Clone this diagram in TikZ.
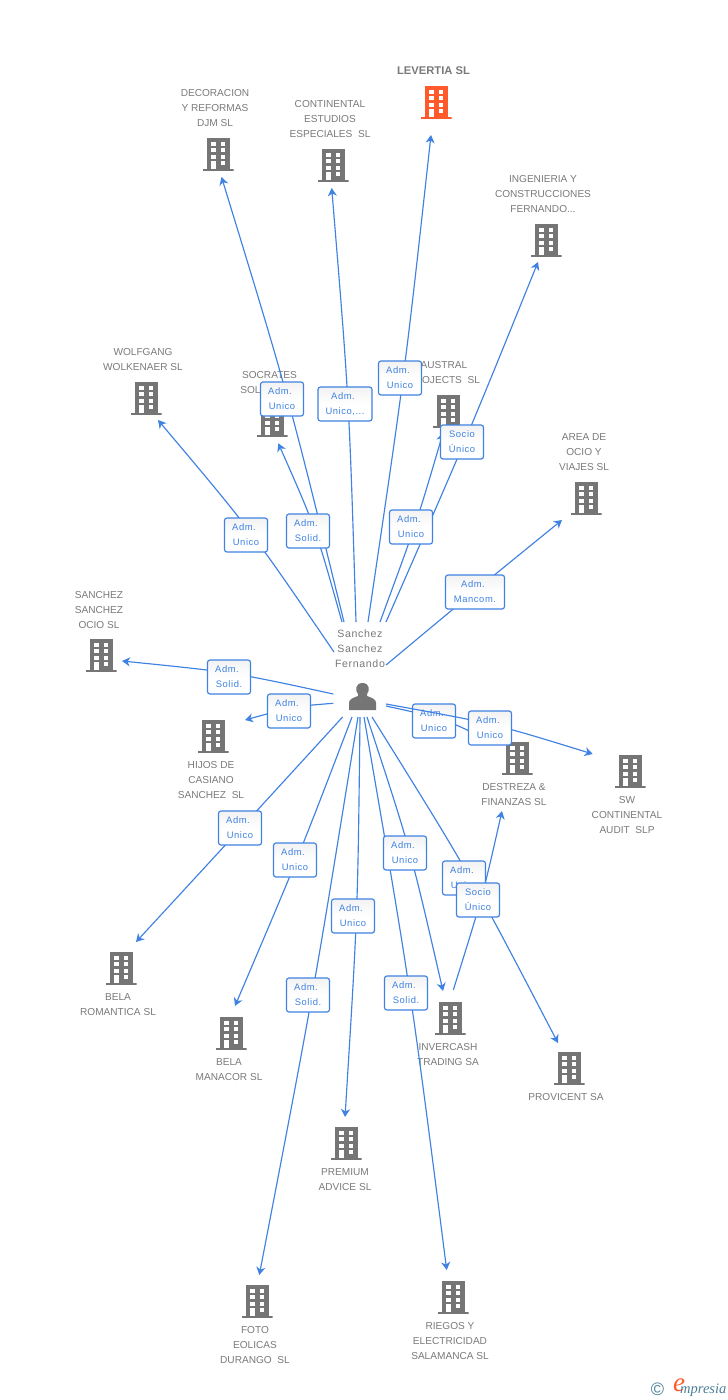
\documentclass[tikz,border=0pt]{standalone}
\usepackage{fontspec}
\setmainfont{Liberation Sans}
\newfontfamily\labfont[LetterSpace=6]{Liberation Sans}
\newfontfamily\logofont{Liberation Serif}
\usetikzlibrary{arrows.meta,calc}
\definecolor{bgray}{HTML}{757575}
\definecolor{txtgray}{HTML}{7A7A7A}
\definecolor{lblue}{HTML}{3F82E2}
\definecolor{oran}{HTML}{FF5A2B}
\definecolor{logoblue}{HTML}{4A7F96}
\tikzset{
 bldg/.style={minimum width=31pt,minimum height=34pt,inner sep=0pt,outer sep=0pt,
  path picture={
   \fill[#1] (-11.5pt,16.5pt) rectangle (11.5pt,-15pt);
   \fill[#1] (-15.5pt,-14.5pt) rectangle (15.5pt,-17pt);
   \foreach \yy in {12.5,6,-0.5}{
    \fill[white] (-7pt,\yy pt) rectangle (-2.5pt,\yy pt-4pt);
    \fill[white] (2.5pt,\yy pt) rectangle (7pt,\yy pt-4pt);}
   \fill[white] (-7pt,-7pt) rectangle (-2.5pt,-14.8pt);
   \fill[white] (2.5pt,-7pt) rectangle (7pt,-11pt);
  }},
 cname/.style={text=txtgray,font=\fontsize{10.1}{15}\selectfont,align=center,inner sep=0pt,yshift=-0.2pt},
 conn/.style={draw=lblue,line width=1.15pt,-{Stealth[length=8pt,width=9pt,inset=2.5pt]}},
 lab/.style={draw=lblue,line width=1.15pt,rounded corners=2.5pt,top color=black!5,bottom color=white,middle color=white,text=lblue,
  minimum width=43pt,minimum height=34pt,inner sep=0pt,align=center,
  font=\labfont\fontsize{9.4}{15}\selectfont},
}
\newcommand\linkto[2]{\draw[conn] (#1) .. controls ($(#1)!.5!(#2)+(5.3,-5.3)$) .. (#2);}
\newcommand\admk{Adm.\kern4pt}
\begin{document}
\begin{tikzpicture}[x=1pt,y=-1pt]
\useasboundingbox (0,0) rectangle (728,1400);
\fill[white] (0,0) rectangle (728,1400);
% person
\node[inner sep=0pt,minimum size=2pt] (p) at (362,697) {};
\fill[bgray] (349,710) -- (349,703) .. controls (349,699) and (353,698) .. (358,696) -- (358,694) .. controls (355,691) and (355,683) .. (362.5,683) .. controls (370,683) and (370,691) .. (367,694) -- (367,696) .. controls (372,698) and (376,699) .. (376,703) -- (376,710) -- cycle;
\node[cname,font=\labfont\fontsize{10.6}{15}\selectfont] (pn) at (360,649) {Sanchez\\Sanchez\\Fernando};
% buildings
\node[bldg=oran] (levertia) at (436,102) {};
\node[bldg=bgray] (djm) at (218,154) {};
\node[bldg=bgray] (cont) at (333,165) {};
\node[bldg=bgray] (ing) at (546,240) {};
\node[bldg=bgray] (wolf) at (146,398) {};
\node[bldg=bgray] (socr) at (272,420) {};
\node[bldg=bgray] (aust) at (448,411) {};
\node[bldg=bgray] (area) at (586,498) {};
\node[bldg=bgray] (ocio) at (101,655) {};
\node[bldg=bgray] (hijos) at (213,736) {};
\node[bldg=bgray] (destr) at (517,758) {};
\node[bldg=bgray] (sw) at (630,771) {};
\node[bldg=bgray] (brom) at (121,968) {};
\node[bldg=bgray] (bman) at (231,1033) {};
\node[bldg=bgray] (inve) at (450,1018) {};
\node[bldg=bgray] (prov) at (569,1068) {};
\node[bldg=bgray] (prem) at (346,1143) {};
\node[bldg=bgray] (foto) at (257,1301) {};
\node[bldg=bgray] (rieg) at (453,1297) {};
% names
\node[cname,font=\bfseries\fontsize{11.2}{15}\selectfont] (nlev) at (433.5,70.5) {LEVERTIA SL};
\node[cname] (ndjm) at (215,108) {DECORACION\\Y REFORMAS\\DJM SL};
\node[cname] (ncont) at (330,119) {CONTINENTAL\\ESTUDIOS\\ESPECIALES\ \ SL};
\node[cname] (ning) at (543,194) {INGENIERIA Y\\CONSTRUCCIONES\\FERNANDO...};
\node[cname] (nwolf) at (143,359.5) {WOLFGANG\\WOLKENAER SL};
\node[cname] (nsocr) at (269.5,382) {SOCRATES\\SOL\phantom{UTIONS}};
\node[cname] (naust) at (444,372) {AUSTRAL\\PROJECTS\ \ SL};
\node[cname] (narea) at (584,452) {AREA DE\\OCIO Y\\VIAJES SL};
\node[cname] (nocio) at (99,610) {SANCHEZ\\SANCHEZ\\OCIO SL};
\node[cname] (nhijos) at (211,780) {HIJOS DE\\CASIANO\\SANCHEZ\ \ SL};
\node[cname] (ndestr) at (514,794) {DESTREZA \&\\FINANZAS SL};
\node[cname] (nsw) at (627,815) {SW\\CONTINENTAL\\AUDIT\ \ SLP};
\node[cname] (nbrom) at (118,1004) {BELA\\ROMANTICA SL};
\node[cname] (nbman) at (229,1069) {BELA\\MANACOR SL};
\node[cname] (ninve) at (448,1054) {INVERCASH\\TRADING SA};
\node[cname] (nprov) at (566,1097) {PROVICENT SA};
\node[cname] (nprem) at (345,1179) {PREMIUM\\ADVICE SL};
\node[cname] (nfoto) at (255,1345) {FOTO\\EOLICAS\\DURANGO\ \ SL};
\node[cname] (nrieg) at (450,1341) {RIEGOS Y\\ELECTRICIDAD\\SALAMANCA SL};
% connectors
\linkto{[shift={(6,-75)}]p.center}{[shift={(-5,33)}]levertia.center}
\linkto{[shift={(-18,-75)}]p.center}{[shift={(3.5,23)}]djm.center}
\linkto{[shift={(-6,-75)}]p.center}{[shift={(-1.3,23)}]cont.center}
\linkto{[shift={(24,-75)}]p.center}{[shift={(-8,22)}]ing.center}
\linkto{[shift={(-28,-45)}]p.center}{[shift={(12,22)}]wolf.center}
\linkto{[shift={(-20,-75)}]p.center}{[shift={(6.3,23.3)}]socr.center}
\linkto{[shift={(18,-75)}]p.center}{[shift={(-5,22)}]aust.center}
\linkto{[shift={(24,-32)}]p.center}{[shift={(-24,22)}]area.center}
\linkto{[shift={(-28.7,-3)}]p.center}{[shift={(21,6)}]ocio.center}
\linkto{[shift={(-28.7,6.3)}]p.center}{[shift={(32,-16)}]hijos.center}
\linkto{[shift={(-19.4,20)}]p.center}{[shift={(15,-26)}]brom.center}
\linkto{[shift={(-10,20)}]p.center}{[shift={(4,-27)}]bman.center}
\linkto{[shift={(-2,20)}]p.center}{[shift={(-1,-26)}]prem.center}
\linkto{[shift={(-4,20)}]p.center}{[shift={(2.3,-26)}]foto.center}
\linkto{[shift={(2,20)}]p.center}{[shift={(-6.3,-27)}]rieg.center}
\linkto{[shift={(5,20)}]p.center}{[shift={(-7,-27)}]inve.center}
\linkto{[shift={(10,20)}]p.center}{[shift={(-11,-25)}]prov.center}
\linkto{[shift={(24,9)}]p.center}{[shift={(-25,-16)}]destr.center}
\node[lab] (l1) at (400,378) {\admk\\Unico};
\node[lab,minimum width=54pt] (l2) at (345,404) {\admk\\Unico,...};
\node[lab] (l3) at (282,399) {\admk\\Unico};
\node[lab] (l4) at (462,442) {Socio\\Único};
\node[lab] (l5) at (411,527) {\admk\\Unico};
\node[lab] (l6) at (308,531) {\admk\\Solid.};
\node[lab] (l7) at (246,535) {\admk\\Unico};
\node[lab,minimum width=59pt] (l8) at (475,592) {\admk\\Mancom.};
\node[lab] (l9) at (229,677) {\admk\\Solid.};
\node[lab] (l10) at (289,711) {\admk\\Unico};
\node[lab] (l11) at (434,721) {\admk\\Unico};
\linkto{[shift={(24,7)}]p.center}{[shift={(-37.3,-17)}]sw.center}
\node[lab] (l12) at (490,728) {\admk\\Unico};
\node[lab] (l13) at (240,828) {\admk\\Unico};
\node[lab] (l14) at (295,860) {\admk\\Unico};
\node[lab] (l15) at (353,916) {\admk\\Unico};
\node[lab] (l16) at (308,995) {\admk\\Solid.};
\node[lab] (l17) at (406,993) {\admk\\Solid.};
\node[lab] (l18) at (405,853) {\admk\\Unico};
\node[lab] (l19) at (464,878) {\admk\\Unico};
\linkto{[shift={(3.3,-28)}]inve.center}{[shift={(-15,53)}]destr.center}
\node[lab] (l20) at (478,900) {Socio\\Único};
% logo
\node[inner sep=0pt,text=logoblue,font=\fontsize{18}{18}\selectfont] (cp) at (657.5,1389) {©};
\node[inner sep=0pt,text=oran,font=\logofont\itshape\fontsize{27}{27}\selectfont] (le) at (679,1385) {e};
\node[inner sep=0pt,text=logoblue,anchor=base west,font=\logofont\itshape\fontsize{14.5}{15}\selectfont] (lm) at (680,1393) {mpresia};
\end{tikzpicture}
\end{document}
